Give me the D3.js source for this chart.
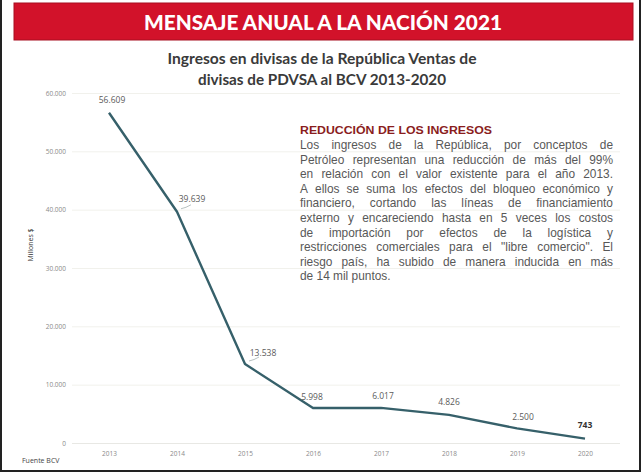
<!DOCTYPE html>
<html>
<head>
<meta charset="utf-8">
<script src="https://cdn.jsdelivr.net/npm/d3@7"></script>
<style>
  body { margin: 0; background: #fff; }
  svg { display: block; }
</style>
</head>
<body>
<div id="chart"></div>
<script>
// data
var years = ["2013", "2014", "2015", "2016", "2017", "2018", "2019", "2020"];
var ingresos = [56609, 39639, 13538, 5998, 6017, 4826, 2500, 743];
var yTicks = [0, 10000, 20000, 30000, 40000, 50000, 60000];
// label offsets next to each point
var labelDx = [3, 15, 18, -1, 2, 0, 6, 0];
var labelDy = [-13, -13, -11, -11, -12, -13, -11, -14];

var header = "MENSAJE ANUAL A LA NACIÓN 2021";
var subtitle = ["Ingresos en divisas de la República Ventas de", "divisas de PDVSA al BCV 2013-2020"];
var subtitleW = [309, 248];
var noteTitle = "REDUCCIÓN DE LOS INGRESOS";
var noteLines = [
  "Los ingresos de la República, por conceptos de",
  "Petróleo representan una reducción de más del 99%",
  "en  relación con el valor existente para el año 2013.",
  "A ellos se suma los efectos del bloqueo económico y",
  "financiero, cortando las líneas de financiamiento",
  "externo y encareciendo hasta en 5 veces los costos",
  "de importación por efectos de la logística y",
  "restricciones comerciales para el \"libre comercio\". El",
  "riesgo país, ha subido de manera inducida en más",
  "de 14 mil puntos."
];

var W = 642, H = 473;
var svg = d3.select("#chart").append("svg")
    .attr("width", W).attr("height", H);

// header band
svg.append("rect")
    .attr("x", 14).attr("y", 3).attr("width", 619).attr("height", 37)
    .attr("fill", "#d2122a").attr("stroke", "#a80f20").attr("stroke-width", 1);
svg.append("text")
    .attr("x", 323).attr("y", 30)
    .attr("text-anchor", "middle")
    .attr("textLength", 358).attr("lengthAdjust", "spacingAndGlyphs")
    .style("font-family", "Lato, sans-serif").style("font-weight", 900)
    .style("font-size", "21px").attr("fill", "#fff")
    .text(header);

// subtitle
svg.selectAll(".sub")
    .data(subtitle)
    .enter().append("text")
    .attr("class", "sub")
    .attr("x", 322)
    .attr("y", function (d, i) { return 64 + i * 21; })
    .attr("text-anchor", "middle")
    .attr("textLength", function (d, i) { return subtitleW[i]; })
    .attr("lengthAdjust", "spacingAndGlyphs")
    .style("font-family", "Lato, sans-serif").style("font-weight", 700)
    .style("font-size", "14.5px").attr("fill", "#3a3a3a")
    .text(function (d) { return d; });

// scales
var x = d3.scalePoint().domain(years).range([109, 585]);
var y = d3.scaleLinear().domain([0, 60000]).range([443, 93]);
var loc = d3.formatLocale({ decimal: ",", thousands: ".", grouping: [3], currency: ["", "$"] });
var fmt = loc.format(",d");

// grid + y labels
var yAxis = d3.axisLeft(y).tickValues(yTicks).tickFormat(fmt)
    .tickSize(-548).tickPadding(6);
var gy = svg.append("g").attr("transform", "translate(72,0)").call(yAxis);
gy.select(".domain").remove();
gy.selectAll(".tick line").attr("stroke", "#f1f1ec").attr("stroke-width", 1);
gy.selectAll(".tick text").attr("fill", "#8a8a8a")
    .style("font-family", "'Open Sans', sans-serif").style("font-size", "6.5px");
gy.selectAll(".tick").filter(function (d) { return d === 0; })
    .select("line").attr("stroke", "#e8e8e4");

// x labels
var xAxis = d3.axisBottom(x).tickSize(0).tickPadding(8);
var gx = svg.append("g").attr("transform", "translate(0,443)").call(xAxis);
gx.select(".domain").remove();
gx.selectAll(".tick text").attr("fill", "#8a8a8a")
    .style("font-family", "'Open Sans', sans-serif").style("font-size", "6.5px");

// axis title + source
svg.append("text")
    .attr("transform", "translate(33,245) rotate(-90)")
    .attr("text-anchor", "middle")
    .style("font-family", "'Open Sans', sans-serif").style("font-size", "7px")
    .attr("fill", "#333").text("Millones $");
svg.append("text")
    .attr("x", 22).attr("y", 463)
    .style("font-family", "'Open Sans', sans-serif").style("font-size", "7px")
    .attr("fill", "#444").text("Fuente BCV");

// the line
var pts = years.map(function (d, i) { return { year: d, value: ingresos[i], i: i }; });
var line = d3.line()
    .x(function (d) { return x(d.year); })
    .y(function (d) { return y(d.value); });
svg.append("path")
    .datum(pts)
    .attr("d", line)
    .attr("fill", "none")
    .attr("stroke", "#36606a")
    .attr("stroke-width", 2.4)
    .attr("stroke-linejoin", "round");

// small leader strokes under two labels
svg.selectAll(".leader")
    .data(pts.filter(function (d) { return d.i === 1 || d.i === 2; }))
    .enter().append("path")
    .attr("class", "leader")
    .attr("d", function (d) {
      var px = x(d.year), py = y(d.value);
      return "M" + (px + 4) + "," + (py - 3) + "Q" + (px + 9) + "," + (py - 4) + " " + (px + 14) + "," + (py - 7);
    })
    .attr("fill", "none").attr("stroke", "#9aa6a6").attr("stroke-width", 0.7);

// value labels
svg.selectAll(".val")
    .data(pts)
    .enter().append("text")
    .attr("class", "val")
    .attr("x", function (d) { return x(d.year) + labelDx[d.i]; })
    .attr("y", function (d) { return y(d.value) + labelDy[d.i] + 3; })
    .attr("text-anchor", "middle")
    .style("font-family", "'Open Sans', sans-serif")
    .style("font-size", "8.5px")
    .style("font-weight", function (d) { return d.i === 7 ? 700 : 400; })
    .attr("fill", function (d) { return d.i === 7 ? "#333" : "#5a5a5a"; })
    .text(function (d) { return fmt(d.value); });

// note block, justified by placing each word
var noteX = 300, noteW = 313, lineH = 14.6;
svg.append("text")
    .attr("x", noteX).attr("y", 134)
    .attr("textLength", 192).attr("lengthAdjust", "spacingAndGlyphs")
    .style("font-family", "'Liberation Sans', Arial, sans-serif")
    .style("font-weight", 700).style("font-size", "11.5px")
    .attr("fill", "#8a1d1d").text(noteTitle);

var noteG = svg.append("g")
    .style("font-family", "'Liberation Sans', Arial, sans-serif")
    .style("font-size", "11.9px").attr("fill", "#585858");

noteLines.forEach(function (ln, li) {
  var words = ln.split(/\s+/);
  var yy = 149 + li * lineH;
  var nodes = words.map(function (w) {
    return noteG.append("text").attr("y", yy).text(w);
  });
  var widths = nodes.map(function (n) { return n.node().getComputedTextLength(); });
  var total = d3.sum(widths);
  var last = li === noteLines.length - 1;
  var gap = last ? 3.3 : (noteW - total) / (words.length - 1);
  var cx = noteX;
  nodes.forEach(function (n, k) {
    n.attr("x", cx);
    cx += widths[k] + gap;
  });
});

// frame
svg.append("path")
    .attr("d", "M1,0V471H640V0")
    .attr("fill", "none").attr("stroke", "#222").attr("stroke-width", 2);
</script>
</body>
</html>
